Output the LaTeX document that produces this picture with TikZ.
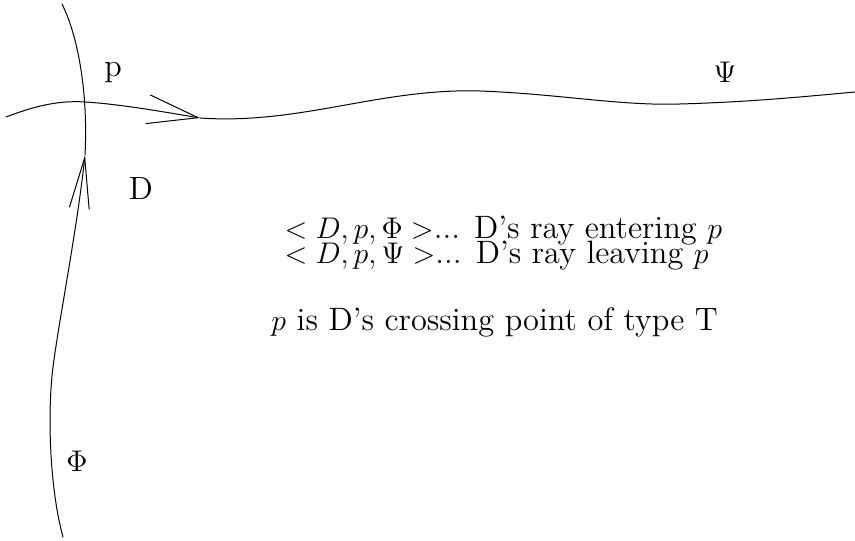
\documentclass[tikz,border=0pt]{standalone}
\usepackage{amsmath}
\usepackage{tikz}
\usetikzlibrary{arrows.meta}

\begin{document}
\begin{tikzpicture}[
  x=0.01411cm, y=-0.01411cm, line cap=round, line join=round,
  lbl/.style={font=\fontsize{12.9}{15}\selectfont, inner sep=0pt},
  txt/.style={font=\fontsize{13}{15}\selectfont, anchor=base west, inner sep=0pt}]

\useasboundingbox (0,0) rectangle (855,541);

% ================================================================ the two rays
\coordinate (tipPhi) at (85,155);
\coordinate (tipPsi) at (200,118);

% ray Phi, coming up from below
\draw[-{Straight Barb[length=0.72cm, width=0.28cm]}]
  (63,537) .. controls (50,490) and (47,415) .. (53,367)
           .. controls (59,320) and (77,230) .. (tipPhi);
\draw (tipPhi) .. controls (88,100) and (80,40) .. (62,4);

% ray Psi, leaving to the right
\draw[-{Straight Barb[length=0.72cm, width=0.41cm]}]
  (6,117) .. controls (30,108) and (55,100) .. (85,102)
          .. controls (120,104) and (170,113) .. (tipPsi);
\draw (tipPsi) .. controls (300,125) and (380,88) .. (480,91)
               .. controls (560,94) and (620,106) .. (680,104)
               .. controls (750,102) and (800,97) .. (855,92);

% ================================================================ labels
\node[lbl] (lblp)   at (113,73)  {p};
\node[lbl] (lblPsi) at (725,72)  {$\Psi$};
\node[lbl] (lblD)   at (141,189) {D};
\node[lbl] (lblPhi) at (77,461)  {$\Phi$};

\node[txt] (entering) at (284,239) {$<D,p,\Phi>$... D's ray entering $p$};
\node[txt] (leaving)  at (284,264) {$<D,p,\Psi>$... D's ray leaving $p$};
\node[txt] (typeT)    at (271,331) {$p$ is D's crossing point of type T};

\end{tikzpicture}
\end{document}
